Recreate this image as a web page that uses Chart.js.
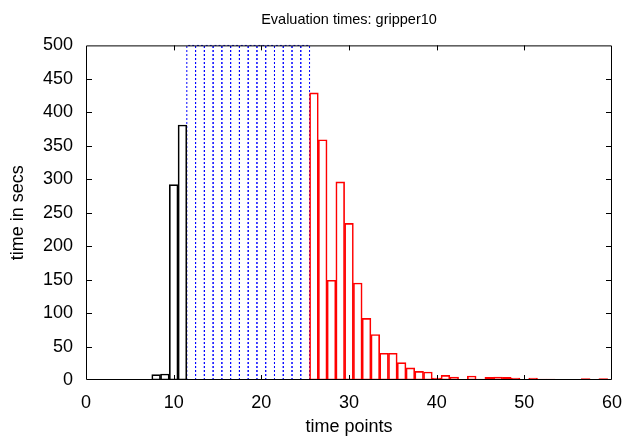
<!DOCTYPE html>
<html>
<head>
<meta charset="utf-8">
<script src="https://cdn.jsdelivr.net/npm/chart.js@4/dist/chart.umd.min.js"></script>
<style>
  html, body { margin: 0; padding: 0; background: #fff; }
  #wrap { width: 624px; height: 441px; }
</style>
</head>
<body>
<div id="wrap"><canvas id="evalChart" width="624" height="441"></canvas></div>
<script>
// time points solved before the timeout block (black boxes)
const earlyPoints = [1, 2, 3, 4, 5, 6, 7, 8, 9, 10, 11];
const earlyTimes = [0, 0, 0, 0, 0, 0, 1, 8, 9, 292, 381];

// time points that hit the cap (blue dotted boxes)
const timeoutPoints = [12, 13, 14, 15, 16, 17, 18, 19, 20, 21, 22, 23, 24, 25];
const timeoutTime = 500;

// time points solved after the timeout block (red boxes)
const latePoints = [26, 27, 28, 29, 30, 31, 32, 33, 34, 35, 36, 37, 38, 39, 40, 41, 42, 43,
                    44, 45, 46, 47, 48, 49, 50, 51, 52, 53, 54, 55, 56, 57, 58, 59, 60];
const lateTimes = [429, 359, 149, 296, 234, 145, 92, 68, 40, 40, 26, 18, 13, 12, 3, 7, 4.5, 0.5,
                   6, 1.5, 4, 4.5, 4, 3, 0.5, 3, 1.5, 1.5, 1, 1, 1, 2, 1, 2, 1];

const xTicks = [0, 10, 20, 30, 40, 50, 60];
const yTicks = [0, 50, 100, 150, 200, 250, 300, 350, 400, 450, 500];

Chart.defaults.font.family = "'Liberation Sans', Arial, sans-serif";
Chart.defaults.color = '#000';

// boxes for the timeout points, one closed outline each, broken by null gaps
const timeoutOutline = [];
timeoutPoints.forEach(t => {
  timeoutOutline.push({ x: t - 0.5, y: 0 }, { x: t - 0.5, y: timeoutTime },
                      { x: t + 0.5, y: timeoutTime }, { x: t + 0.5, y: 0 }, { x: t, y: null });
});

// gnuplot style frame with inward ticks on all four sides
const framePlugin = {
  id: 'frame',
  afterDatasetsDraw(chart) {
    const { ctx, chartArea: a, scales: { x, y } } = chart;
    ctx.save();
    ctx.strokeStyle = '#000';
    ctx.lineWidth = 1;
    ctx.beginPath();
    ctx.rect(a.left + 0.5, a.top + 0.5, a.right - a.left - 1, a.bottom - a.top - 1);
    xTicks.slice(1, -1).forEach(v => {
      const px = Math.round(x.getPixelForValue(v)) + 0.5;
      ctx.moveTo(px, a.bottom); ctx.lineTo(px, a.bottom - 5);
      ctx.moveTo(px, a.top); ctx.lineTo(px, a.top + 5);
    });
    yTicks.slice(1, -1).forEach(v => {
      const py = Math.round(y.getPixelForValue(v)) + 0.5;
      ctx.moveTo(a.left, py); ctx.lineTo(a.left + 6, py);
      ctx.moveTo(a.right, py); ctx.lineTo(a.right - 6, py);
    });
    ctx.stroke();
    ctx.restore();
  }
};

const ctx = document.getElementById('evalChart').getContext('2d');

new Chart(ctx, {
  type: 'bar',
  data: {
    datasets: [
      {
        label: 'early',
        data: earlyPoints.map((p, i) => ({ x: p, y: earlyTimes[i] })),
        backgroundColor: 'rgba(0,0,0,0)',
        borderColor: '#000',
        borderWidth: 1,
        borderSkipped: false,
        grouped: false,
        barPercentage: 1,
        categoryPercentage: 1,
        clip: 0
      },
      {
        label: 'late',
        data: latePoints.map((p, i) => ({ x: p, y: lateTimes[i] })),
        backgroundColor: 'rgba(0,0,0,0)',
        borderColor: '#ff0000',
        borderWidth: 1,
        borderSkipped: false,
        grouped: false,
        barPercentage: 1,
        categoryPercentage: 1,
        clip: 0
      },
      {
        type: 'line',
        label: 'timeout',
        data: timeoutOutline,
        borderColor: '#0000ff',
        borderWidth: 1,
        borderDash: [2, 2],
        pointRadius: 0,
        spanGaps: false,
        fill: false,
        tension: 0,
        clip: 1
      }
    ]
  },
  options: {
    responsive: false,
    animation: false,
    layout: { padding: { left: 0, right: 12, top: 0, bottom: 0 } },
    plugins: {
      legend: { display: false },
      tooltip: { enabled: false },
      title: {
        display: true,
        fullSize: false,
        text: 'Evaluation times: gripper10',
        font: { size: 14.5, weight: 'normal' },
        color: '#000',
        padding: { top: 11, bottom: 17 }
      }
    },
    scales: {
      x: {
        type: 'linear',
        offset: false,
        min: 0,
        max: 60,
        grid: { display: false, drawTicks: false, tickLength: 0 },
        border: { display: false },
        ticks: { stepSize: 10, font: { size: 18 }, padding: 12, maxRotation: 0 },
        title: { display: true, text: 'time points', font: { size: 18 }, padding: { top: 0, bottom: 3 } },
        afterFit(scale) {
          scale.height = 61;
          scale.paddingLeft = 0;
          scale.paddingRight = 0;
        }
      },
      y: {
        min: 0,
        max: 500,
        grid: { display: false, drawTicks: false, tickLength: 0 },
        border: { display: false },
        ticks: { stepSize: 50, font: { size: 18 }, padding: 13 },
        title: { display: true, text: 'time in secs', font: { size: 18 }, padding: { top: 7, bottom: 0 } },
        afterFit(scale) { scale.width = 86; }
      }
    }
  },
  plugins: [framePlugin]
});
</script>
</body>
</html>
